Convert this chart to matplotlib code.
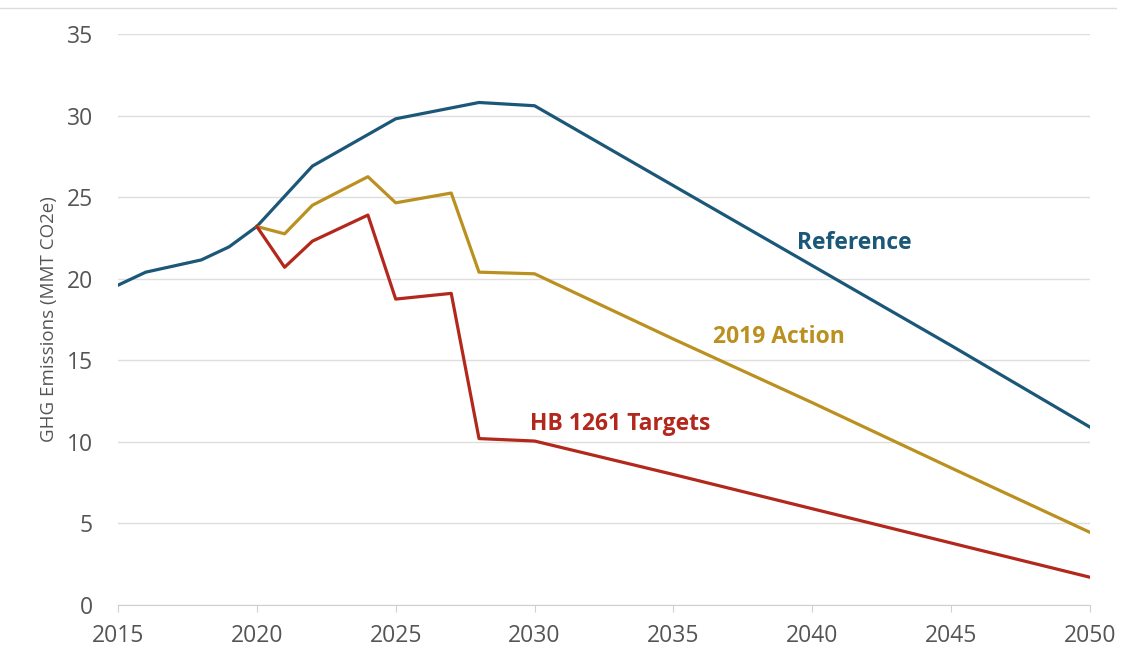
import matplotlib
matplotlib.use("Agg")
import matplotlib.pyplot as plt
from matplotlib.lines import Line2D

plt.rcParams['font.family'] = ['Open Sans', 'DejaVu Sans']

ref_years = [2015, 2016, 2018, 2019, 2020, 2022, 2025, 2028, 2030, 2035, 2040, 2045, 2050]
ref_vals = [19.6, 20.4, 21.15, 21.95, 23.2, 26.9, 29.8, 30.8, 30.6, 25.7, 20.8, 15.9, 10.9]

act_years = [2020, 2021, 2022, 2024, 2025, 2027, 2028, 2030, 2035, 2040, 2045, 2050]
act_vals = [23.2, 22.75, 24.5, 26.25, 24.65, 25.25, 20.4, 20.3, 16.3, 12.4, 8.4, 4.45]

hb_years = [2020, 2021, 2022, 2024, 2025, 2027, 2028, 2030, 2035, 2040, 2045, 2050]
hb_vals = [23.2, 20.7, 22.3, 23.9, 18.75, 19.1, 10.2, 10.05, 8.0, 5.9, 3.8, 1.7]

c_ref = '#1B5778'
c_act = '#BA9020'
c_hb = '#B3281C'

fig = plt.figure(figsize=(11.33, 6.53), dpi=100)
ax = fig.add_axes([0.1041, 0.0735, 0.858, 0.8745])

ax.plot(ref_years, ref_vals, color=c_ref, lw=2.3, solid_joinstyle='round', zorder=3)
ax.plot(act_years, act_vals, color=c_act, lw=2.3, solid_joinstyle='round', zorder=3)
ax.plot(hb_years, hb_vals, color=c_hb, lw=2.3, solid_joinstyle='round', zorder=3)

ax.text(2041.5, 22.2, 'Reference', color=c_ref, fontsize=16.5, fontweight='bold', ha='center', va='center')
ax.text(2038.8, 16.4, '2019 Action', color=c_act, fontsize=16.5, fontweight='bold', ha='center', va='center')
ax.text(2033.1, 11.1, 'HB 1261 Targets', color=c_hb, fontsize=16.5, fontweight='bold', ha='center', va='center')

ax.set_xlim(2015, 2050)
ax.set_ylim(0, 35)
ax.set_xticks(range(2015, 2051, 5))
ax.set_yticks(range(0, 36, 5))
ax.grid(axis='y', color='#dedede', lw=1)
ax.set_axisbelow(True)
for s in ['top', 'right', 'left']:
    ax.spines[s].set_visible(False)
ax.spines['bottom'].set_color('#d0d0d0')
ax.tick_params(axis='y', length=0, labelsize=16.5, labelcolor='#555555', pad=18)
ax.tick_params(axis='x', length=5, color='#d0d0d0', labelsize=16.5, labelcolor='#555555', pad=9)
ax.set_ylabel('GHG Emissions (MMT CO2e)', fontsize=13.5, color='#555555', labelpad=6)

fig.add_artist(Line2D([0.0, 0.985], [0.988, 0.988], color='#dddddd', lw=1, transform=fig.transFigure))

fig.savefig('out.png', dpi=100)
